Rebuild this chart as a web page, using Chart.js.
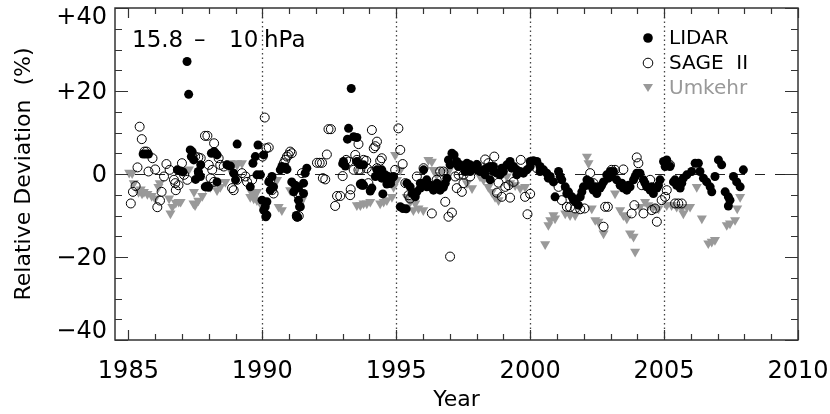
<!DOCTYPE html>
<html>
<head>
<meta charset="utf-8">
<script src="https://cdn.jsdelivr.net/npm/chart.js@4/dist/chart.umd.min.js"></script>
<style>
  body { margin: 0; background: #fff; }
  canvas { display: block; }
</style>
</head>
<body>
<canvas id="devChart" width="830" height="414"></canvas>
<script>
// Axis ticks
const yearTicks = [1985, 1990, 1995, 2000, 2005, 2010];
const yearDotted = [1990, 1995, 2000, 2005];
const devTicks = [40, 20, 0, -20, -40];
const devTickLabels = ["+40", "+20", "0", "\u221220", "\u221240"];

// LIDAR (filled circles)
const lidarYears = [
  1985.55, 1985.65, 1985.75, 1986.83, 1986.95, 1987.04, 1987.19, 1987.25, 1987.31, 1987.35,
  1987.38, 1987.44, 1987.51, 1987.61, 1987.62, 1987.69, 1987.70, 1987.87, 1987.95, 1987.99,
  1988.10, 1988.20, 1988.25, 1988.31, 1988.31, 1988.68, 1988.81, 1988.93, 1989.00, 1989.06,
  1989.55, 1989.65, 1989.74, 1989.80, 1989.84, 1989.93, 1989.99, 1990.05, 1990.05, 1990.11,
  1990.17, 1990.17, 1990.13, 1990.24, 1990.36, 1990.42, 1990.30, 1990.67, 1990.73, 1990.86,
  1990.92, 1991.10, 1991.17, 1991.23, 1991.32, 1991.35, 1991.35, 1991.39, 1991.32, 1991.27,
  1991.42, 1991.54, 1991.54, 1991.60, 1991.66,
  1993.00, 1993.03, 1993.10, 1993.18, 1993.22, 1993.32, 1993.41, 1993.53, 1993.53, 1993.66,
  1993.66, 1993.72, 1993.72, 1993.78, 1993.78, 1994.03, 1994.09, 1994.22, 1994.28, 1994.34,
  1994.46, 1994.46, 1994.50, 1994.59, 1994.65, 1994.71, 1994.78, 1994.84, 1994.90,
  1995.15, 1995.25, 1995.37, 1995.40, 1995.52, 1995.59, 1995.64, 1995.71, 1995.77, 1995.90,
  1995.90, 1996.02, 1996.02, 1996.14, 1996.14, 1996.27, 1996.27, 1996.39, 1996.39, 1996.51,
  1996.52, 1996.64, 1996.70, 1996.76, 1996.83, 1996.89, 1996.95, 1997.01, 1997.08, 1997.16,
  1997.26, 1997.32, 1997.39, 1997.51, 1997.57, 1997.64, 1997.76, 1997.76, 1997.88, 1998.01,
  1998.01, 1998.13, 1998.26, 1998.32, 1998.38, 1998.51, 1998.51, 1998.63, 1998.63, 1998.76,
  1998.88, 1998.94, 1999.00, 1999.13, 1999.25, 1999.31, 1999.38, 1999.50, 1999.50, 1999.63,
  1999.75, 1999.88, 2000.00, 2000.00, 2000.12, 2000.25, 2000.37, 2000.37, 2000.50, 2000.62,
  2000.68, 2000.75, 2000.87, 2000.93,
  2001.06, 2001.12, 2001.18, 2001.31, 2001.37, 2001.43, 2001.56, 2001.62, 2001.68, 2001.80,
  2001.87, 2001.93, 2001.99, 2002.12, 2002.18, 2002.24, 2002.36, 2002.43, 2002.49, 2002.61,
  2002.67, 2002.74, 2002.86, 2002.92, 2002.99, 2003.04, 2003.11, 2003.23, 2003.36, 2003.42,
  2003.48, 2003.61, 2003.67, 2003.73, 2003.86, 2003.92, 2003.98, 2004.10, 2004.23, 2004.29,
  2004.35, 2004.48, 2004.54, 2004.60, 2004.73, 2004.79, 2004.85, 2004.98, 2005.04, 2005.10,
  2005.22, 2005.35, 2005.41, 2005.47, 2005.60, 2005.66, 2005.72, 2005.85, 2006.03, 2006.16,
  2006.28, 2006.34, 2006.47, 2006.59, 2006.72, 2006.78, 2006.90, 2007.03, 2007.15, 2007.28,
  2007.40, 2007.46, 2007.40, 2007.59, 2007.71, 2007.84, 2007.96
];
const lidarDev = [
  4.8, 4.8, 4.8, 1.0, 0.7, 0.5, 27.1, 19.2, 5.8, 4.2,
  5.4, 3.4, -1.3, 0.6, 0.2, -0.6, 2.2, -3.1, -2.9, -3.2,
  5.0, 5.4, 5.0, 4.6, -1.9, 2.2, 1.9, 0.2, -1.4, 7.2,
  -3.1, 2.6, 4.2, -0.2, 7.0, -0.2, -6.3, 4.6, -8.7, -7.9,
  -6.7, -9.9, -10.3, -1.9, -0.6, -3.1, -3.9, 1.0, 1.8, 1.6,
  1.1, -1.9, -4.3, -2.7, -3.1, -3.4, -6.3, -7.9, -10.4, -10.0,
  -7.9, -2.2, -4.7, 0.2, 1.4,
  2.5, 3.0, 1.9, 8.4, 11.0, 20.6, 9.0, 8.8, 3.0, 2.2,
  -2.4, -2.2, -2.7, 2.2, -2.7, -4.1, -3.4, -0.6, 1.0, -0.2,
  -1.0, 1.0, -4.8, -0.2, -2.4, -0.6, -2.2, -1.0, -0.6,
  -7.9, -8.3, -8.4, -2.2, -3.1, -4.7, -4.7, -5.5, -4.3, -3.4,
  -2.2, -2.2, 1.0, -1.4, -3.1, -3.1, -2.7, -3.9, -3.1, -3.4,
  -2.2, -3.9, -2.9, -3.2, -2.2, -1.0, 3.4, 2.2, 5.0, 4.6,
  3.0, 1.8, 2.2, 1.8, 0.6, 2.6, 2.2, 0.6, 1.8, 1.0,
  2.2, 0.6, 1.0, -0.2, 1.4, 1.8, -1.4, 0.6, 1.8, 0.2,
  -0.2, 1.4, 0.6, 2.2, 3.0, 1.4, 1.8, 1.0, -0.2, 0.6,
  0.2, 1.0, 3.0, 1.8, 3.2, 3.0, 1.8, 0.6, 1.0, 0.2,
  -1.0, -0.6, -1.9, -5.5,
  0.6, -0.6, -1.4, -3.1, -4.7, -4.3, -5.5, -6.3, -6.7, -7.5,
  -5.5, -4.3, -3.1, -1.4, -2.7, -1.9, -3.9, -3.1, -4.7, -3.4,
  -2.7, -1.9, -0.2, -1.0, 0.6, -0.6, 0.6, -1.4, -2.7, -2.2,
  -3.4, -3.9, -2.7, -3.1, -1.4, -0.6, 0.2, 0.2, -1.4, -2.2,
  -3.1, -3.9, -3.1, -4.7, -3.4, -2.7, -1.4, 3.0, 1.8, 3.4,
  1.8, -1.9, -1.4, -2.7, -3.4, -2.2, -1.0, -0.2, 0.6, 2.6,
  2.6, 0.6, -1.0, -1.9, -3.1, -4.3, -0.6, 3.4, 2.2, -4.3,
  -5.5, -6.3, -7.7, -0.6, -1.9, -3.1, 1.0
];

// SAGE II (open circles)
const sageYears = [
  1985.09, 1985.17, 1985.27, 1985.34, 1985.42, 1985.50, 1985.60, 1985.68, 1985.75, 1985.90,
  1986.00, 1986.08, 1986.18, 1986.24, 1986.33, 1986.42, 1986.54, 1986.70, 1986.75, 1986.77,
  1986.87, 1987.00, 1987.08, 1987.20, 1987.39, 1987.49, 1987.61, 1987.70, 1987.86, 1987.95,
  1988.00, 1988.07, 1988.13, 1988.20, 1988.20, 1988.37, 1988.43, 1988.56, 1988.87, 1988.93,
  1989.06, 1989.24, 1989.37, 1989.43, 1989.62, 1990.01, 1990.09, 1990.15, 1990.24, 1990.30,
  1990.36, 1990.42, 1990.80, 1990.86, 1990.92, 1990.98, 1991.04, 1991.10, 1991.29, 1991.36,
  1991.35, 1991.42, 1991.48, 1992.04, 1992.14, 1992.23, 1992.26, 1992.35, 1992.41, 1992.47,
  1992.56, 1992.72, 1992.79, 1992.91, 1993.00, 1993.13, 1993.22, 1993.28, 1993.30, 1993.41,
  1993.47, 1993.53, 1993.59, 1993.59, 1993.66, 1993.78, 1993.88, 1993.90, 1993.96, 1994.09,
  1994.09, 1994.16, 1994.22, 1994.28, 1994.28, 1994.40, 1994.46, 1994.78, 1994.96, 1995.08,
  1995.15, 1995.24, 1995.34, 1995.46, 1995.52, 1995.77, 1996.02, 1996.33, 1996.51, 1996.64,
  1996.76, 1996.83, 1996.95, 1997.01, 1997.08, 1997.20, 1997.26, 1997.33, 1997.45, 1997.51,
  1997.51, 1997.76, 1998.01, 1998.32, 1998.44, 1998.57, 1998.66, 1998.76, 1998.82, 1998.94,
  1999.07, 1999.19, 1999.25, 1999.38, 1999.65, 1999.81, 1999.90, 2000.00, 2000.25, 2001.06,
  2001.18, 2001.37, 2001.49, 2001.68, 2001.87, 2002.03, 2002.18, 2002.24, 2002.36, 2002.74,
  2002.80, 2002.90, 2003.04, 2003.17, 2003.48, 2003.79, 2003.89, 2003.98, 2004.04, 2004.17,
  2004.23, 2004.48, 2004.54, 2004.66, 2004.73, 2004.91, 2005.04, 2005.10, 2005.16, 2005.22,
  2005.41, 2005.53, 2005.66
];
const sageDev = [
  -7.1, -4.3, -2.9, 1.6, 11.4, 8.4, 5.4, 5.4, 0.6, 3.8,
  1.1, -8.0, -6.4, -4.3, -0.6, 2.4, 1.0, -1.4, -2.2, -3.9,
  -2.7, 2.6, -0.2, -1.4, 4.2, 4.2, 4.0, 3.8, 9.2, 9.2,
  2.2, -1.0, 1.0, 7.4, -1.9, 3.8, 2.2, 1.8, -3.4, -3.9,
  -1.4, 0.2, -0.6, -1.9, -1.4, 4.2, 13.6, 6.2, 6.4, -1.4,
  -3.9, -4.7, 2.6, 3.4, 4.2, 4.6, 5.4, 5.0, -10.3, -10.1,
  -5.1, -4.7, 0.2, 2.7, 2.7, 2.7, -1.0, -1.3, 4.7, 10.8,
  10.8, -7.7, -5.3, -5.3, -0.5, 3.4, 3.0, -5.1, -3.7, 1.0,
  4.6, 3.4, 7.2, 1.0, 1.0, 3.4, 3.2, 1.4, -2.2, 10.6,
  0.6, 6.2, 6.7, 7.8, 1.4, 3.2, 3.8, -2.2, 1.0, 11.0,
  5.8, 2.4, -2.2, -5.1, -5.9, -0.6, 1.4, -9.5, -1.4, 0.6,
  0.6, -6.7, -10.3, -19.9, -9.3, -0.6, -3.4, -0.2, -4.3, -2.2,
  -0.2, -0.6, 2.2, 3.5, 2.6, 1.0, 4.2, -4.5, -2.1, -5.5,
  -3.1, -2.7, -5.7, -1.9, 3.4, -5.5, -9.7, -4.8, 1.4, -3.1,
  -6.3, -7.9, -8.0, -8.3, -8.5, -8.3, -1.9, 0.2, -2.2, -12.7,
  -7.9, -7.9, 1.0, 1.0, 1.1, -9.5, -7.5, 4.0, 2.6, -2.7,
  -9.5, -1.4, -8.7, -8.3, -11.5, -6.3, -5.5, -3.9, 2.2, 2.2,
  -7.1, -7.1, -7.1
];

// Umkehr (grey triangles)
const umkehrYears = [
  1985.03, 1985.14, 1985.20, 1985.38, 1985.46, 1985.51, 1985.58, 1985.71, 1985.87, 1986.00,
  1986.12, 1986.17, 1986.52, 1986.57, 1986.64, 1986.77, 1986.88, 1986.95, 1987.26, 1987.43,
  1987.45, 1987.49, 1987.61, 1987.76, 1987.88, 1988.06, 1988.31, 1988.43, 1988.62, 1988.81,
  1988.81, 1989.06, 1989.06, 1989.24, 1989.55, 1989.62, 1989.68, 1989.68, 1989.80, 1989.80,
  1989.93, 1990.55, 1990.61, 1990.73, 1991.04, 1991.17, 1991.42, 1991.48,
  1993.53, 1993.66, 1993.78, 1993.90, 1994.03, 1994.40, 1994.53, 1994.65, 1994.84, 1994.90,
  1994.96, 1995.03, 1995.15, 1995.39, 1995.52, 1995.64, 1995.71, 1995.83, 1996.01, 1996.20,
  1996.33, 1996.39, 1996.51, 1996.70, 1996.95, 1997.64, 1997.83, 1998.13, 1998.26, 1998.44,
  1998.57, 1998.69, 1998.82, 1999.13, 1999.25, 1999.44, 1999.63, 1999.81, 2000.56, 2000.68,
  2000.75, 2000.87, 2000.93, 2001.31, 2001.49, 2001.68, 2002.12, 2002.18, 2002.30, 2002.43,
  2002.55, 2002.74, 2003.17, 2003.36, 2003.48, 2003.61, 2003.73, 2003.86, 2003.92, 2004.10,
  2004.29, 2004.41, 2004.60, 2004.79, 2005.10, 2005.28, 2005.47, 2005.66, 2005.72, 2005.85,
  2005.97, 2006.22, 2006.41, 2006.65, 2006.78, 2006.90, 2007.34, 2007.46, 2007.65, 2007.73,
  2007.84
];
const umkehrDev = [
  0.3, 0.2, -2.2, -4.3, -3.7, -4.7, -4.3, -4.8, -5.3, -5.9,
  -3.1, -2.2, -5.9, -9.5, -7.9, -6.9, -6.7, -6.7, 1.1, -7.1,
  -4.3, -7.5, -6.4, -5.3, -3.2, -3.1, -3.9, -3.1, -1.9, 2.6,
  1.0, 2.6, 2.2, 2.6, -5.5, -4.7, -5.5, -5.9, -4.3, -6.3,
  -7.1, -1.4, -7.9, -8.7, -3.9, -3.1, -7.1, -6.3,
  -7.5, -7.5, -7.1, -7.1, -6.7, -7.1, -6.7, -6.3, -5.5, -3.1,
  4.6, -1.4, 1.0, -5.5, -6.7, -8.7, -7.1, -8.3, -8.7, 3.4,
  3.0, 1.0, -0.2, 0.6, 0.6, -2.2, -3.4, -0.6, -1.4, -3.1,
  -4.3, -5.5, -6.3, -0.6, -2.2, -2.7, -3.4, -3.1, -16.9, -12.3,
  -11.1, -9.9, -10.7, -9.5, -9.9, -9.9, 4.2, 2.6, -8.3, -11.1,
  -11.5, -14.3, -4.7, -8.7, -9.9, -10.7, -14.3, -15.1, -18.7, -7.9,
  -6.7, -7.5, -7.9, -8.3, -7.5, -7.5, -7.9, -8.3, -9.5, -7.9,
  -7.9, -3.1, -10.7, -16.7, -16.3, -15.9, -12.3, -11.9, -11.1, -8.3,
  -5.5
];

const pairs = (xs, ys) => xs.map((x, i) => ({ x: x, y: ys[i] }));
const FONT = "'DejaVu Sans', sans-serif";

// Frame, inward ticks, reference lines, legend and y-axis text
const framePlugin = {
  id: "frame",
  beforeDatasetsDraw(chart) {
    const { ctx, chartArea: a, scales } = chart;
    const xs = scales.x, ys = scales.y;
    ctx.save();
    // vertical dotted lines
    ctx.strokeStyle = "#444";
    ctx.lineWidth = 1.3;
    ctx.setLineDash([1.5, 3]);
    yearDotted.forEach((yr) => {
      const px = Math.round(xs.getPixelForValue(yr)) + 0.5;
      ctx.beginPath();
      ctx.moveTo(px, a.top);
      ctx.lineTo(px, a.bottom);
      ctx.stroke();
    });
    // zero dashed line
    ctx.strokeStyle = "#222";
    ctx.lineWidth = 1;
    ctx.setLineDash([10, 10]);
    const y0 = Math.round(ys.getPixelForValue(0)) + 0.5;
    ctx.beginPath();
    ctx.moveTo(a.left, y0);
    ctx.lineTo(a.right, y0);
    ctx.stroke();
    ctx.restore();
  },
  afterDraw(chart) {
    const { ctx, chartArea: a, scales } = chart;
    const xs = scales.x, ys = scales.y;
    ctx.save();
    ctx.setLineDash([]);
    ctx.strokeStyle = "#333";
    ctx.lineWidth = 1.5;
    ctx.strokeRect(a.left, a.top, a.right - a.left, a.bottom - a.top);

    ctx.lineWidth = 1.2;
    ctx.beginPath();
    for (let yr = 1985; yr <= 2010; yr++) {
      const px = Math.round(xs.getPixelForValue(yr)) + 0.5;
      const len = yr % 5 === 0 ? 10 : 6;
      ctx.moveTo(px, a.bottom); ctx.lineTo(px, a.bottom - len);
      ctx.moveTo(px, a.top); ctx.lineTo(px, a.top + len);
    }
    for (let v = -40; v <= 40; v += 5) {
      const py = Math.round(ys.getPixelForValue(v)) + 0.5;
      const len = v % 20 === 0 ? 13 : 7;
      ctx.moveTo(a.left, py); ctx.lineTo(a.left + len, py);
      ctx.moveTo(a.right, py); ctx.lineTo(a.right - len, py);
    }
    ctx.stroke();

    // y tick labels
    ctx.fillStyle = "#000";
    ctx.font = "24px " + FONT;
    ctx.textAlign = "right";
    ctx.textBaseline = "middle";
    devTicks.forEach((v, i) => {
      let py = ys.getPixelForValue(v);
      py = Math.min(Math.max(py + 2, a.top + 10), a.bottom - 8);
      ctx.fillText(devTickLabels[i], a.left - 8, py);
    });

    // y title
    ctx.save();
    ctx.translate(24, (a.top + a.bottom) / 2);
    ctx.rotate(-Math.PI / 2);
    ctx.textAlign = "center";
    ctx.font = "22px " + FONT;
    ctx.fillText("Relative Deviation  (%)", 0, 0);
    ctx.restore();

    // pressure level label
    ctx.textAlign = "left";
    ctx.font = "23px " + FONT;
    ctx.fillText("15.8", 132, 41);
    ctx.fillText("\u2013", 194, 41);
    ctx.fillText("10", 229, 41);
    ctx.fillText("hPa", 264, 41);

    // legend
    const lx = 648, tx = 669;
    ctx.font = "20px " + FONT;
    ctx.fillStyle = "#000";
    ctx.beginPath(); ctx.arc(lx, 38, 4.8, 0, Math.PI * 2); ctx.fill();
    ctx.fillText("LIDAR", tx, 39);
    ctx.lineWidth = 1;
    ctx.strokeStyle = "#000";
    ctx.beginPath(); ctx.arc(lx, 63, 4.8, 0, Math.PI * 2); ctx.stroke();
    ctx.fillText("SAGE  II", tx, 64);
    ctx.fillStyle = "#999";
    ctx.beginPath();
    ctx.moveTo(lx - 5, 84); ctx.lineTo(lx + 5, 84); ctx.lineTo(lx, 92); ctx.closePath();
    ctx.fill();
    ctx.fillText("Umkehr", tx, 89);
    ctx.restore();
  }
};

new Chart(document.getElementById("devChart"), {
  type: "scatter",
  data: {
    datasets: [
      {
        label: "SAGE II",
        data: pairs(sageYears, sageDev),
        pointStyle: "circle",
        pointRadius: 4.5,
        backgroundColor: "rgba(0,0,0,0)",
        borderColor: "#000",
        borderWidth: 1,
      },
      {
        label: "LIDAR",
        data: pairs(lidarYears, lidarDev),
        pointStyle: "circle",
        pointRadius: 4.5,
        backgroundColor: "#000",
        borderColor: "#000",
        borderWidth: 0,
      },
      {
        label: "Umkehr",
        data: pairs(umkehrYears, umkehrDev),
        pointStyle: "triangle",
        rotation: 180,
        pointRadius: 5.8,
        backgroundColor: "#999",
        borderColor: "#999",
        borderWidth: 0,
      },
    ],
  },
  options: {
    responsive: false,
    devicePixelRatio: 1,
    animation: false,
    events: [],
    layout: { padding: { top: 8, right: 32, left: 0, bottom: 0 } },
    plugins: { legend: { display: false }, tooltip: { enabled: false } },
    scales: {
      x: {
        type: "linear",
        min: 1984.5,
        max: 2010,
        afterBuildTicks: (scale) => { scale.ticks = yearTicks.map((v) => ({ value: v })); },
        afterFit: (scale) => {
          scale.height = 74;
          scale.paddingLeft = 0;
          scale.paddingRight = 0;
        },
        grid: { display: false, drawTicks: false },
        border: { display: false },
        ticks: {
          color: "#000",
          font: { family: FONT, size: 24 },
          padding: 17,
          maxRotation: 0,
          autoSkip: false,
          callback: (v) => String(v),
        },
        title: {
          display: true,
          text: "Year",
          color: "#000",
          font: { family: FONT, size: 22 },
          padding: { top: 0, bottom: 1 },
        },
      },
      y: {
        min: -40,
        max: 40,
        afterFit: (scale) => { scale.width = 115; },
        grid: { display: false, drawTicks: false },
        border: { display: false },
        ticks: { display: false },
      },
    },
  },
  plugins: [framePlugin],
});
</script>
</body>
</html>
